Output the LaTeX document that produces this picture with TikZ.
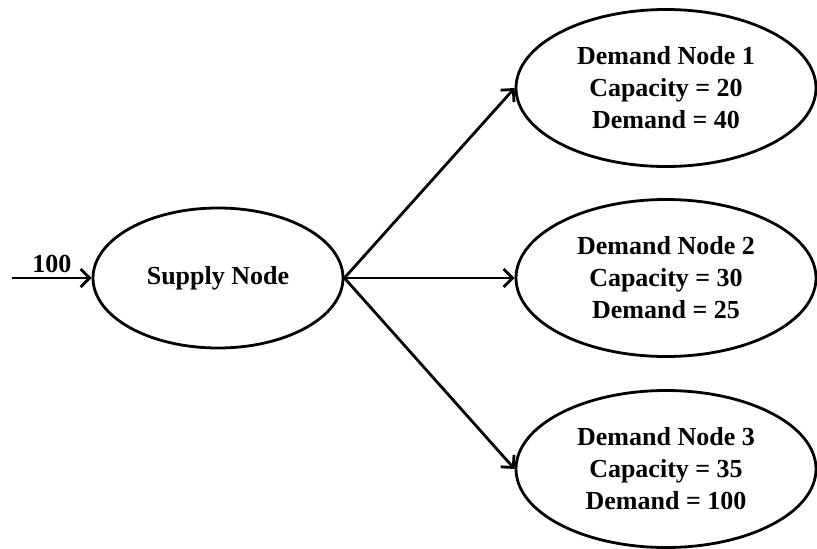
\documentclass[tikz,border=0pt]{standalone}
\usepackage{fontspec}
\setmainfont{Liberation Serif}
\usetikzlibrary{shapes.geometric,arrows.meta}
\begin{document}
\begin{tikzpicture}[x=1pt,y=-1pt]
    \tikzstyle{oval}=[ellipse,draw,line width=2.8pt,inner sep=0pt,align=center,font=\fontsize{26}{32}\selectfont\bfseries]
    \tikzstyle{flow}=[line width=2.8pt,-{Straight Barb[length=9pt,width=18pt]}]
    \useasboundingbox (0,0) rectangle (817,549);
    \node[oval,minimum width=250pt,minimum height=140pt] (supply) at (218,278) {Supply Node};
    \node[oval,minimum width=300pt,minimum height=157pt] (dem1) at (666,88)  {Demand Node 1\\Capacity = 20\\Demand = 40};
    \node[oval,minimum width=300pt,minimum height=157pt] (dem2) at (666,278) {Demand Node 2\\Capacity = 30\\Demand = 25};
    \node[oval,minimum width=300pt,minimum height=157pt] (dem3) at (666,469) {Demand Node 3\\Capacity = 35\\Demand = 100};
    \coordinate (src) at (12,278);

    \draw[flow] (src) -- node[above,yshift=1pt,font=\fontsize{26}{32}\selectfont\bfseries] {100} (supply.west);
    \draw[flow] (supply.east) -- (dem1.west);
    \draw[flow] (supply.east) -- (dem2.west);
    \draw[flow] (supply.east) -- (dem3.west);

\end{tikzpicture}
\end{document}
